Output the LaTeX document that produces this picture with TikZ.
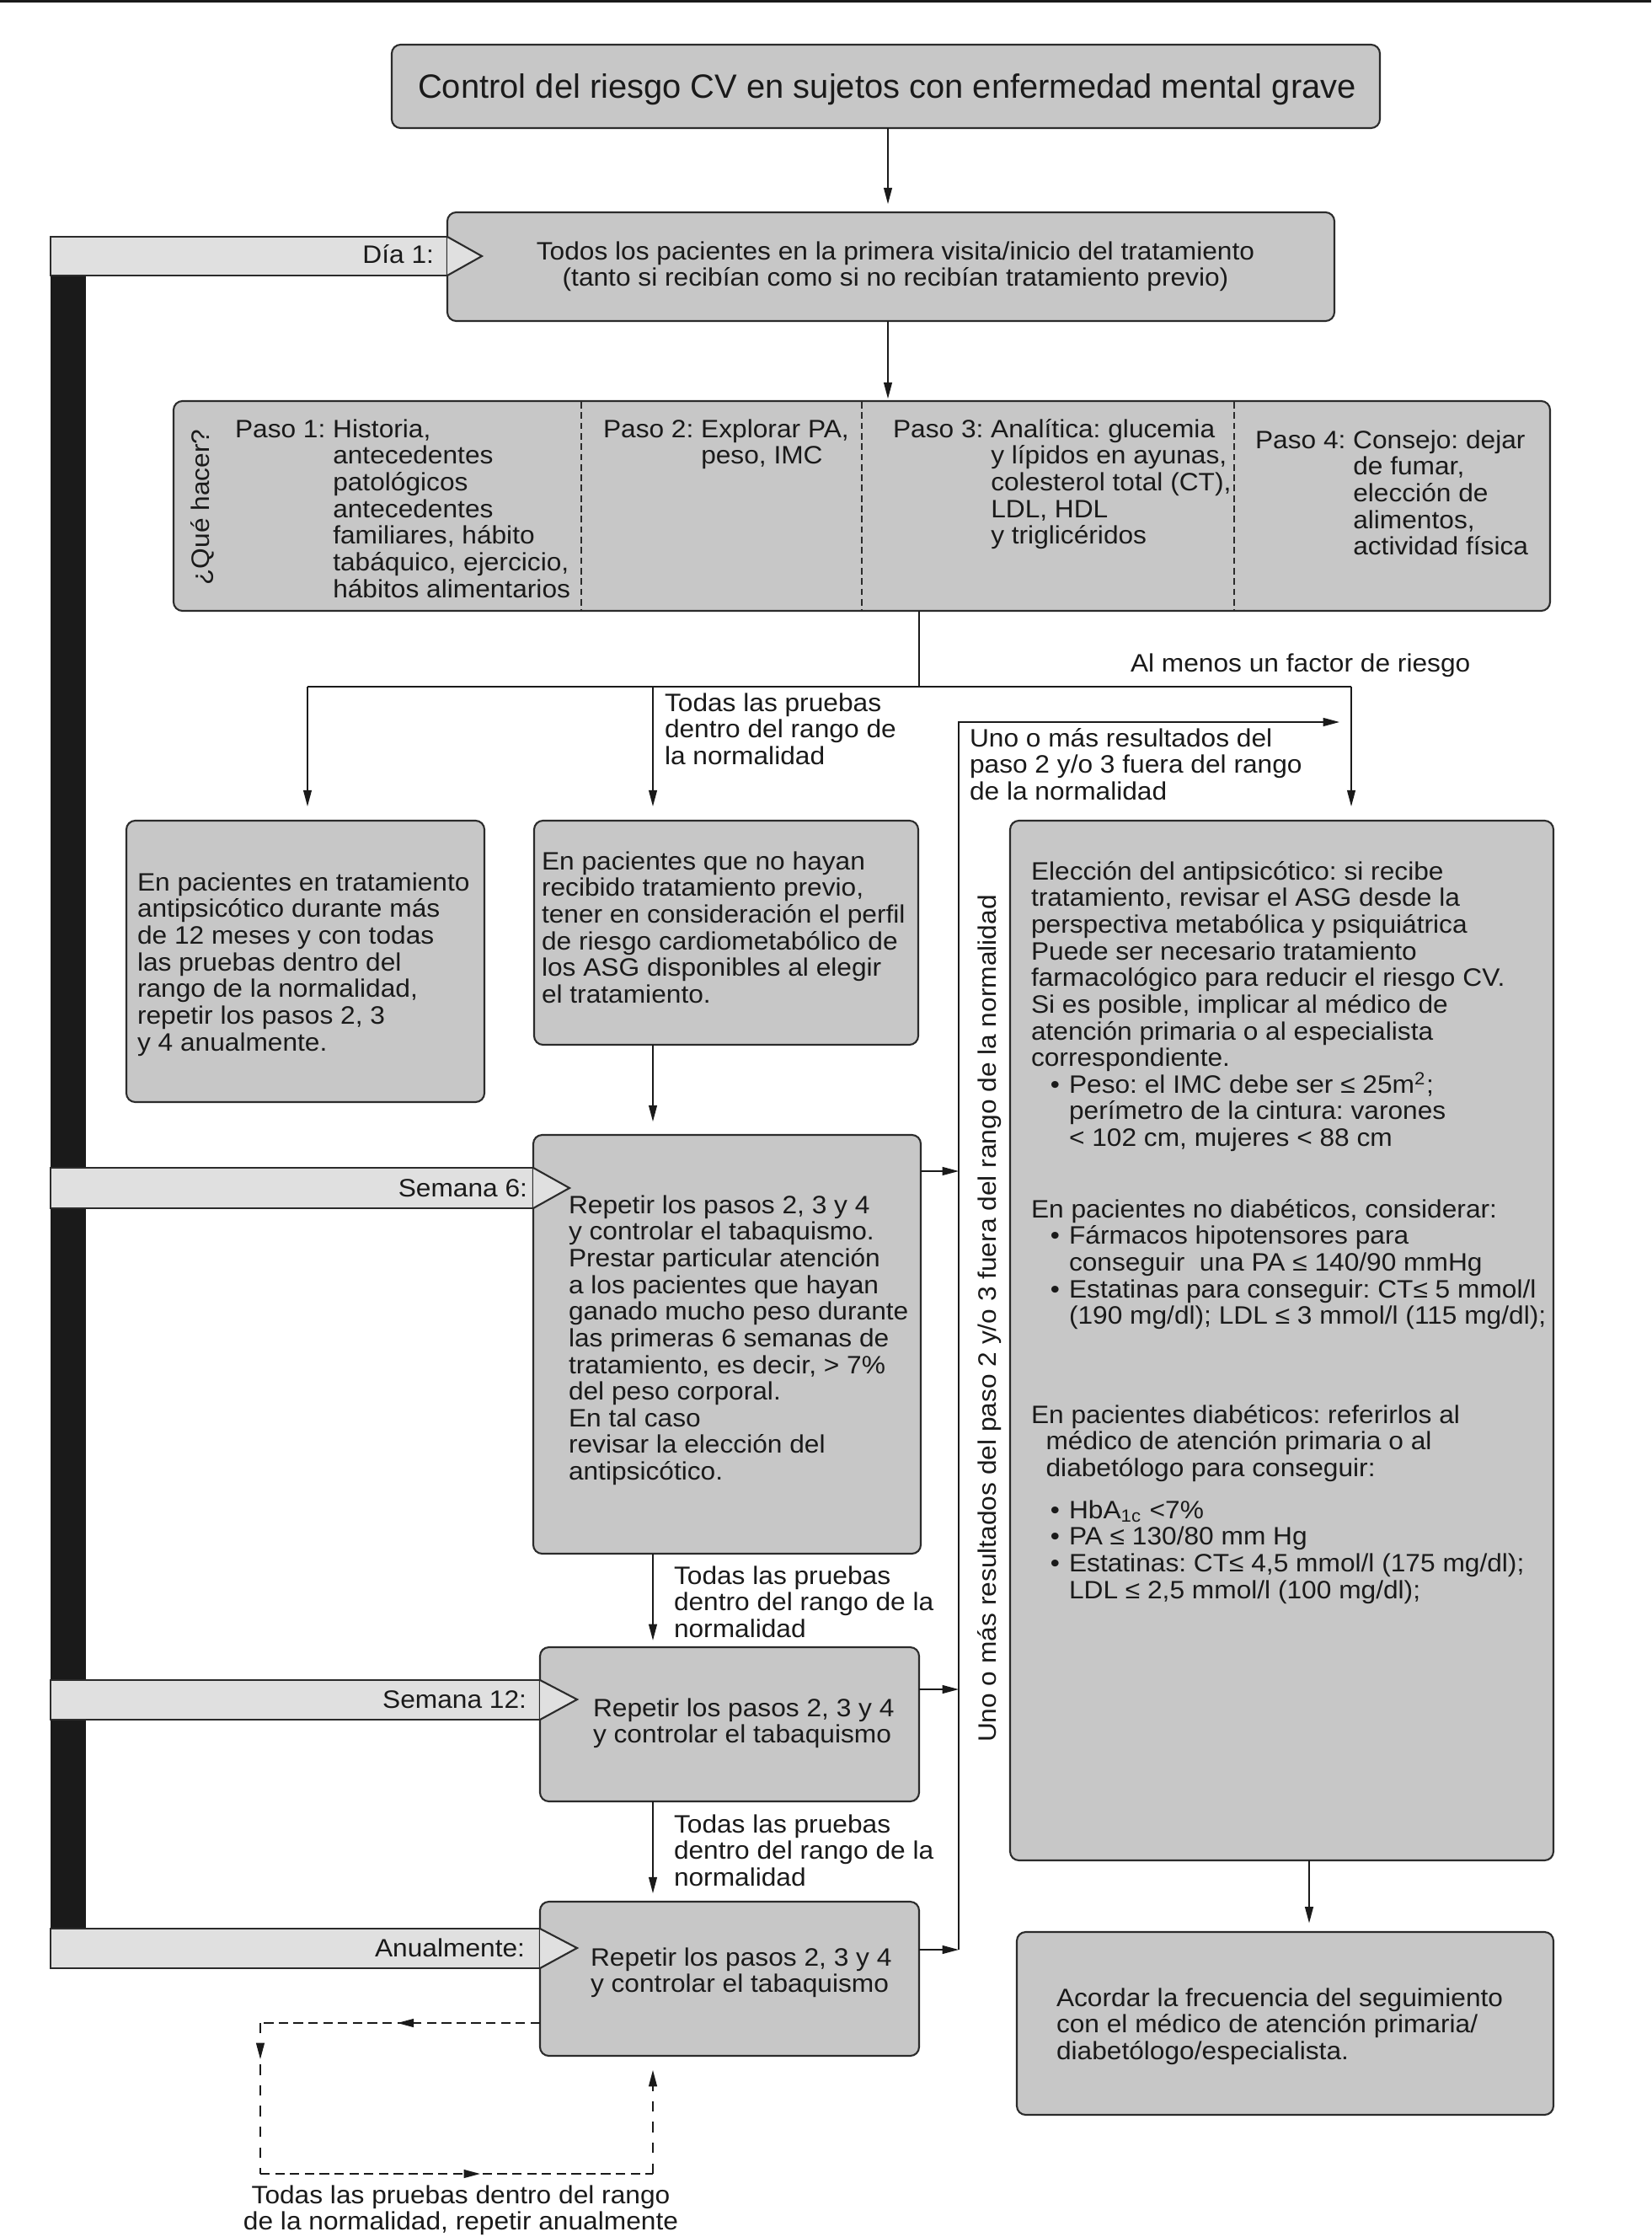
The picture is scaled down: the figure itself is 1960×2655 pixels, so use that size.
\documentclass[tikz,border=0pt]{standalone}
\usepackage{fontspec}
\setmainfont{Liberation Sans}[FakeStretch=1.06]
\newfontfamily\titlefamily{Liberation Sans}
\usetikzlibrary{arrows.meta,fit,decorations.markings}
\definecolor{boxgray}{HTML}{C7C7C7}
\definecolor{bandgray}{HTML}{E0E0E0}
\definecolor{ink}{HTML}{1A1A1A}
\definecolor{edgecol}{HTML}{2B2B2B}
\newcommand\bodyfont{\fontsize{8.5pt}{9pt}\selectfont\frenchspacing\lineskiplimit=-20pt\lineskip=0pt\relax}
\newcommand\fstrut{\rule{0pt}{8pt}}
\newcommand\bul{\hspace*{6.5pt}\makebox[6.3pt][l]{\textbullet}}
\newcommand\ind{\hspace*{12.8pt}}
\tikzset{
 box/.style={draw=edgecol, line width=0.6pt, fill=boxgray, rounded corners=3pt, inner sep=0pt, outer sep=0pt},
 bandbox/.style={draw=edgecol, line width=0.6pt, fill=bandgray},
 conn/.style={draw=ink, line width=0.45pt},
 arr/.style={conn, -{Triangle[length=5.5pt,width=2.8pt]}},
 txt/.style={inner sep=0pt, outer sep=0pt, anchor=north west, align=left, font=\bodyfont, text=ink},
 lbl/.style={inner sep=0pt, outer sep=0pt, font=\bodyfont, text=ink},
 dashh/.style={conn, dash pattern=on 3.2pt off 1.8pt},
 dashv/.style={conn, dash pattern=on 3.5pt off 3.5pt},
 midtip/.style={postaction={decorate}, decoration={markings, mark=at position #1 with {\arrow{Triangle[length=5.5pt,width=2.8pt]}}}},
}
\begin{document}
\begin{tikzpicture}[x=0.01cm, y=-0.01cm]
\fill[white] (0,0) rectangle (1960,2655);
\useasboundingbox (0,0) rectangle (1960,2655);
\fill[ink] (0,0) rectangle (1960,3);

% time bar
\fill[ink] (60,327) rectangle (102,2289);
\filldraw[bandbox] (60,281) rectangle (531,327);
\filldraw[bandbox] (60,1386) rectangle (633,1434);
\filldraw[bandbox] (60,1994) rectangle (641,2041);
\filldraw[bandbox] (60,2289) rectangle (641,2336);

% boxes
\node[box, fit={(465,53)(1638,152)}] (title) {};
\node[box, fit={(531,252)(1584,381)}] (day1) {};
\node[box, fit={(206,476)(1840,725)}, path picture={
  \fill[bandgray] (690,470) rectangle (1023,730);
  \fill[bandgray] (1465,470) rectangle (1845,730);}] (steps) {};
\draw[edgecol, line width=0.5pt, dash pattern=on 2.2pt off 1.3pt] (690,477) -- (690,724);
\draw[edgecol, line width=0.5pt, dash pattern=on 2.2pt off 1.3pt] (1023,477) -- (1023,724);
\draw[edgecol, line width=0.5pt, dash pattern=on 2.2pt off 1.3pt] (1465,477) -- (1465,724);
\node[box, fit={(150,974)(575,1308)}] (leftbox) {};
\node[box, fit={(634,974)(1090,1240)}] (midbox) {};
\node[box, fit={(1199,974)(1844,2208)}] (rightbox) {};
\node[box, fit={(633,1347)(1093,1844)}] (sem6) {};
\node[box, fit={(641,1955)(1091,2138)}] (sem12) {};
\node[box, fit={(641,2257)(1091,2440)}] (anual) {};
\node[box, fit={(1207,2293)(1844,2510)}] (final) {};

% chevrons
\fill[bandgray] (531,281) -- (572,304) -- (531,327) -- cycle;
\draw[edgecol, line width=0.6pt] (531,281) -- (572,304) -- (531,327);
\fill[bandgray] (633,1386) -- (676,1410) -- (633,1434) -- cycle;
\draw[edgecol, line width=0.6pt] (633,1386) -- (676,1410) -- (633,1434);
\fill[bandgray] (641,1994) -- (685,2017) -- (641,2041) -- cycle;
\draw[edgecol, line width=0.6pt] (641,1994) -- (685,2017) -- (641,2041);
\fill[bandgray] (641,2289) -- (685,2312) -- (641,2336) -- cycle;
\draw[edgecol, line width=0.6pt] (641,2289) -- (685,2312) -- (641,2336);

% band labels
\node[lbl, anchor=base east] (lday1) at (515,313) {Día 1:};
\node[lbl, anchor=base east] (lsem6) at (626,1420) {Semana 6:};
\node[lbl, anchor=base east] (lsem12) at (625,2027) {Semana 12:};
\node[lbl, anchor=base east] (lanual) at (623,2322) {Anualmente:};

% texts
\node[lbl, anchor=base, font=\titlefamily\fontsize{11.35pt}{13pt}\selectfont] (titletxt) at (1053,117) {Control del riesgo CV en sujetos con enfermedad mental grave};
\node[txt, anchor=north, align=center] (day1txt) at (1063,280) {\fstrut Todos los pacientes en la primera visita/inicio del tratamiento\\(tanto si recibían como si no recibían tratamiento previo)};

\node[lbl, rotate=90, anchor=base] (quehacer) at (248,602) {¿Qué hacer?};
\node[txt] (step1) at (279,491) {\fstrut Paso 1: Historia,\\
\phantom{Paso 1:} antecedentes\\
\phantom{Paso 1:} patológicos\\
\phantom{Paso 1:} antecedentes\\
\phantom{Paso 1:} familiares, hábito\\
\phantom{Paso 1:} tabáquico, ejercicio,\\
\phantom{Paso 1:} hábitos alimentarios};
\node[txt] (step2) at (716,491) {\fstrut Paso 2: Explorar PA,\\
\phantom{Paso 2:} peso, IMC};
\node[txt] (step3) at (1060,491) {\fstrut Paso 3: Analítica: glucemia\\
\phantom{Paso 3:} y lípidos en ayunas,\\
\phantom{Paso 3:} colesterol total (CT),\\
\phantom{Paso 3:} LDL, HDL\\
\phantom{Paso 3:} y triglicéridos};
\node[txt] (step4) at (1490,504) {\fstrut Paso 4: Consejo: dejar\\
\phantom{Paso 4:} de fumar,\\
\phantom{Paso 4:} elección de\\
\phantom{Paso 4:} alimentos,\\
\phantom{Paso 4:} actividad física};

\node[lbl, anchor=base west] (almenos) at (1342,797) {Al menos un factor de riesgo};
\node[txt] (todas1) at (789,816) {\fstrut Todas las pruebas\\dentro del rango de\\la normalidad};
\node[txt] (uno) at (1151,858) {\fstrut Uno o más resultados del\\paso 2 y/o 3 fuera del rango\\de la normalidad};

\node[txt] (lefttxt) at (163,1029) {\fstrut En pacientes en tratamiento\\
antipsicótico durante más\\
de 12 meses y con todas\\
las pruebas dentro del\\
rango de la normalidad,\\
repetir los pasos 2, 3\\
y 4 anualmente.};
\node[txt] (midtxt) at (643,1004) {\fstrut En pacientes que no hayan\\
recibido tratamiento previo,\\
tener en consideración el perfil\\
de riesgo cardiometabólico de\\
los ASG disponibles al elegir\\
el tratamiento.};

\node[txt] (rightA) at (1224,1016) {\fstrut Elección del antipsicótico: si recibe\\
tratamiento, revisar el ASG desde la\\
perspectiva metabólica y psiquiátrica\\
Puede ser necesario tratamiento\\
farmacológico para reducir el riesgo CV.\\
Si es posible, implicar al médico de\\
atención primaria o al especialista\\
correspondiente.\\
\bul Peso: el IMC debe ser ≤ 25m\textsuperscript{2};\\
\ind perímetro de la cintura: varones\\
\ind < 102 cm, mujeres < 88 cm};
\node[txt] (rightB) at (1224,1417) {\fstrut En pacientes no diabéticos, considerar:\\
\bul Fármacos hipotensores para\\
\ind conseguir\ \ una PA ≤ 140/90 mmHg\\
\bul Estatinas para conseguir: CT≤ 5 mmol/l\\
\ind (190 mg/dl); LDL ≤ 3 mmol/l (115 mg/dl);};
\node[txt] (rightC) at (1224,1661) {\fstrut En pacientes diabéticos: referirlos al\\
\hspace*{5pt}médico de atención primaria o al\\
\hspace*{5pt}diabetólogo para conseguir:};
\node[txt] (rightD) at (1224,1774) {\fstrut\bul HbA\textsubscript{1c} <7\%\\
\bul PA ≤ 130/80 mm Hg\\
\bul Estatinas: CT≤ 4,5 mmol/l (175 mg/dl);\\
\ind LDL ≤ 2,5 mmol/l (100 mg/dl);};

\node[lbl, rotate=90, anchor=base] (unovert) at (1182,1565) {Uno o más resultados del paso 2 y/o 3 fuera del rango de la normalidad};

\node[txt] (sem6txt) at (675,1412) {\fstrut Repetir los pasos 2, 3 y 4\\
y controlar el tabaquismo.\\
Prestar particular atención\\
a los pacientes que hayan\\
ganado mucho peso durante\\
las primeras 6 semanas de\\
tratamiento, es decir, > 7\%\\
del peso corporal.\\
En tal caso\\
revisar la elección del\\
antipsicótico.};
\node[txt] (todas2) at (800,1852) {\fstrut Todas las pruebas\\dentro del rango de la\\normalidad};
\node[txt] (sem12txt) at (704,2009) {\fstrut Repetir los pasos 2, 3 y 4\\y controlar el tabaquismo};
\node[txt] (todas3) at (800,2147) {\fstrut Todas las pruebas\\dentro del rango de la\\normalidad};
\node[txt] (anualtxt) at (701,2305) {\fstrut Repetir los pasos 2, 3 y 4\\y controlar el tabaquismo};
\node[txt] (finaltxt) at (1254,2353) {\fstrut Acordar la frecuencia del seguimiento\\con el médico de atención primaria/\\diabetólogo/especialista.};
\node[txt, anchor=north, align=center] (looptxt) at (547,2587) {\fstrut Todas las pruebas dentro del rango\\de la normalidad, repetir anualmente};

% connectors
\coordinate (ax) at (1054,200);
\draw[arr, shorten >=2.8pt] (ax |- title.south) -- (ax |- day1.north);
\draw[arr, shorten >=0.8pt] (ax |- day1.south) -- (ax |- steps.north);
\coordinate (split) at (1091,815);
\coordinate (hl) at (365,815);
\coordinate (hm) at (775,815);
\coordinate (hr) at (1604,815);
\draw[conn] (split |- steps.south) -- (split);
\draw[conn] (hl) -- (hr);
\draw[arr, shorten >=4.8pt] (hl) -- (hl |- leftbox.north);
\draw[arr, shorten >=4.8pt] (hm) -- (hm |- midbox.north);
\draw[arr, shorten >=4.8pt] (hr) -- (hr |- rightbox.north);
\coordinate (vt) at (1138,857);
\coordinate (vtip) at (1590,857);
\coordinate (vb) at (1138,2314);
\draw[arr] (vb) -- (vt) -- (vtip);
\coordinate (a6) at (1138,1390);
\coordinate (a12) at (1138,2005);
\draw[arr] (a6 -| sem6.east) -- (a6);
\draw[arr] (a12 -| sem12.east) -- (a12);
\draw[arr] (vb -| anual.east) -- (vb);
\draw[arr, shorten >=4.5pt] (hm |- midbox.south) -- (hm |- sem6.north);
\draw[arr, shorten >=2.3pt] (hm |- sem6.south) -- (hm |- sem12.north);
\draw[arr, shorten >=2.8pt] (hm |- sem12.south) -- (hm |- anual.north);
\coordinate (fx) at (1554,2250);
\draw[arr, shorten >=3pt] (fx |- rightbox.south) -- (fx |- final.north);

% dashed loop
\coordinate (d1) at (309,2401);
\coordinate (d2) at (309,2580);
\coordinate (d3) at (775,2580);
\draw[dashh, midtip=0.51] (d1 -| anual.west) -- (d1);
\draw[dashv, midtip=0.24] (d1) -- (d2);
\draw[dashh, midtip=0.56] (d2) -- (d3);
\draw[dashv, -{Triangle[length=5.5pt,width=2.8pt]}, shorten >=4.8pt] (d3) -- (hm |- anual.south);
\end{tikzpicture}
\end{document}
